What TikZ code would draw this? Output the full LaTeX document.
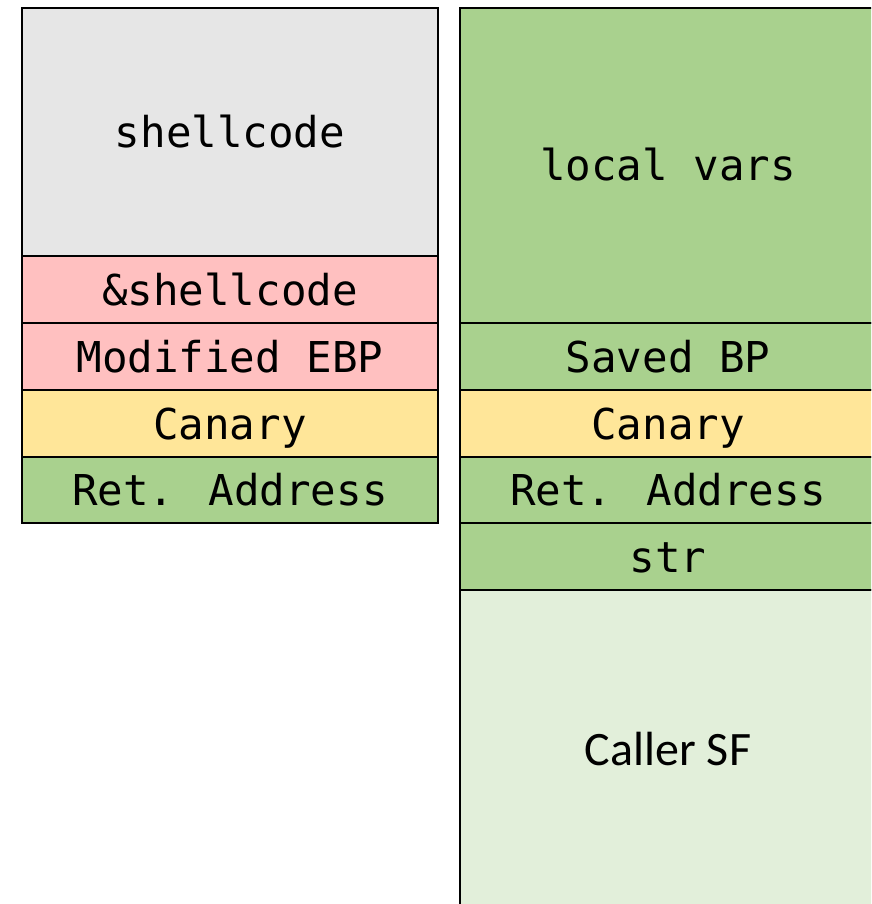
\documentclass[tikz,border=0pt]{standalone}
\usepackage{fontspec}
\newfontfamily\codefont{DejaVu Sans Mono}
\newfontfamily\labelfont{Carlito}
\definecolor{cellgray}{HTML}{E6E6E6}
\definecolor{cellpink}{HTML}{FFC0C0}
\definecolor{cellyellow}{HTML}{FFE699}
\definecolor{cellgreen}{HTML}{A9D18E}
\definecolor{celllight}{HTML}{E2EFDA}
\begin{document}
\begin{tikzpicture}[x=1pt,y=-1pt,
  cell/.style={draw=black, line width=2.3pt, anchor=north west, inner sep=0pt, outer sep=0pt,
    minimum width=416pt, text height=31pt, text depth=0pt,
    font=\codefont\fontsize{42.5}{50}\selectfont},
  caller/.style={cell, font=\labelfont\fontsize{48}{56}\selectfont}]
\useasboundingbox (0,0) rectangle (871,904);
\clip (0,0) rectangle (871,904);
% attacked frame (left column)
\node[cell, fill=cellgray,   minimum height=248pt] (shell)  at (22,8)   {shellcode};
\node[cell, fill=cellpink,   minimum height=67pt]  (addr)   at (22,256) {\&shellcode};
\node[cell, fill=cellpink,   minimum height=67pt]  (mebp)   at (22,323) {Modified EBP};
\node[cell, fill=cellyellow, minimum height=67pt]  (lcan)   at (22,390) {Canary};
\node[cell, fill=cellgreen,  minimum height=66pt]  (lret)   at (22,457) {Ret. Address};
% normal frame (right column)
\node[cell, fill=cellgreen,  minimum height=315pt] (vars)   at (460,8)   {local vars};
\node[cell, fill=cellgreen,  minimum height=67pt]  (sbp)    at (460,323) {Saved BP};
\node[cell, fill=cellyellow, minimum height=67pt]  (rcan)   at (460,390) {Canary};
\node[cell, fill=cellgreen,  minimum height=66pt]  (rret)   at (460,457) {Ret. Address};
\node[cell, fill=cellgreen,  minimum height=67pt]  (str)    at (460,523) {str};
\node[caller, fill=celllight, minimum height=320pt] (csf)   at (460,590) {};
\node[font=\labelfont\fontsize{48}{56}\selectfont, text height=31pt, text depth=0pt, inner sep=0pt] (csflbl) at (668,750) {Caller SF};
\end{tikzpicture}
\end{document}
